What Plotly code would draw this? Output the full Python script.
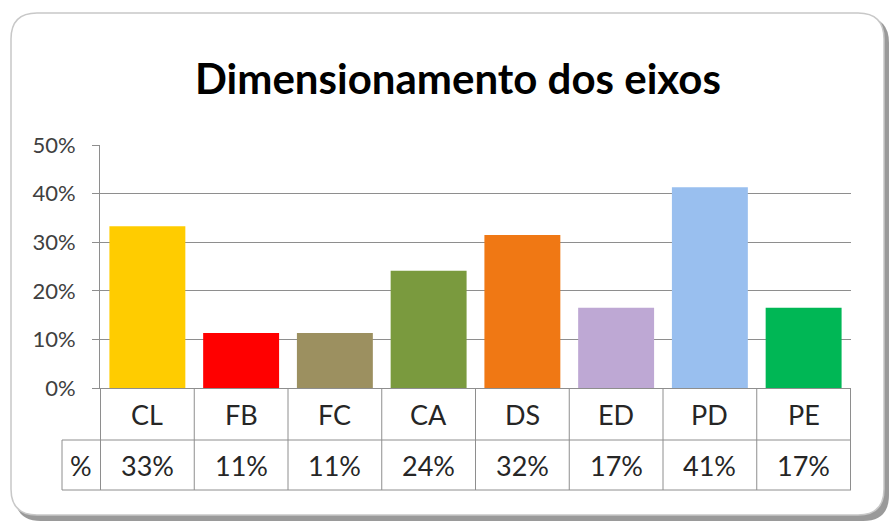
import plotly.graph_objects as go

categories = ["CL", "FB", "FC", "CA", "DS", "ED", "PD", "PE"]
values = [0.333, 0.113, 0.113, 0.241, 0.315, 0.165, 0.413, 0.165]
labels = ["33%", "11%", "11%", "24%", "32%", "17%", "41%", "17%"]
colors = ["#FFCC00", "#FF0000", "#9C9060", "#7A9A3E", "#F07814", "#BEA8D4", "#99BFEF", "#00B755"]
title = "Dimensionamento dos eixos"
row_label = "%"

W, H = 891, 530
L, R, T, B = 100, 851, 145, 388
FONT = "Lato"
TXT = "#262626"
GRID = "#8E8E8E"

def px(x):
    return (x - L) / (R - L)

def py(y):
    return (B - y) / (B - T)

fig = go.Figure(go.Bar(x=categories, y=values, marker=dict(color=colors, line=dict(width=0)),
                       hoverinfo="x+y"))

shapes = []

def rrect(x0, y0, x1, y1, r):
    p = (f"M {px(x0+r)},{py(y0)} L {px(x1-r)},{py(y0)} Q {px(x1)},{py(y0)} {px(x1)},{py(y0+r)} "
         f"L {px(x1)},{py(y1-r)} Q {px(x1)},{py(y1)} {px(x1-r)},{py(y1)} "
         f"L {px(x0+r)},{py(y1)} Q {px(x0)},{py(y1)} {px(x0)},{py(y1-r)} "
         f"L {px(x0)},{py(y0+r)} Q {px(x0)},{py(y0)} {px(x0+r)},{py(y0)} Z")
    return p

# frame shadow and frame
shapes.append(dict(type="path", xref="paper", yref="paper", path=rrect(15, 17, 889, 521, 26),
                   fillcolor="#9A9A9A", line=dict(width=0), layer="below"))
shapes.append(dict(type="path", xref="paper", yref="paper", path=rrect(11, 13, 884, 515, 26),
                   fillcolor="#FFFFFF", line=dict(color="#C8C8C8", width=1.5), layer="below"))

# data table lines
row1 = 440
row2 = 490
for i in range(len(categories) + 1):
    xv = i - 0.5
    shapes.append(dict(type="line", xref="x", yref="paper", x0=xv, x1=xv, y0=py(B), y1=py(row2),
                       line=dict(color=GRID, width=1)))
shapes.append(dict(type="line", xref="paper", yref="paper", x0=px(62), x1=1, y0=py(row1), y1=py(row1),
                   line=dict(color=GRID, width=1)))
shapes.append(dict(type="line", xref="paper", yref="paper", x0=px(62), x1=1, y0=py(row2), y1=py(row2),
                   line=dict(color=GRID, width=1)))
shapes.append(dict(type="line", xref="paper", yref="paper", x0=px(62), x1=px(62), y0=py(row1), y1=py(row2),
                   line=dict(color=GRID, width=1)))

annotations = []
for c, lab in zip(categories, labels):
    annotations.append(dict(x=c, xref="x", y=py((B + row1) / 2), yref="paper", text=c, showarrow=False,
                            font=dict(family=FONT, size=27, color=TXT), xanchor="center", yanchor="middle"))
    annotations.append(dict(x=c, xref="x", y=py((row1 + row2) / 2), yref="paper", text=lab, showarrow=False,
                            font=dict(family=FONT, size=27, color=TXT), xanchor="center", yanchor="middle"))
annotations.append(dict(x=px(81), xref="paper", y=py((row1 + row2) / 2), yref="paper", text=row_label,
                        showarrow=False, font=dict(family=FONT, size=27, color=TXT),
                        xanchor="center", yanchor="middle"))
annotations.append(dict(x=px(458), xref="paper", y=py(78), yref="paper", text="<b>" + title + "</b>",
                        showarrow=False, font=dict(family=FONT, size=42, color="#000000"),
                        xanchor="center", yanchor="middle"))

fig.update_layout(
    width=W, height=H,
    margin=dict(l=L, r=W - R, t=T, b=H - B, pad=0),
    paper_bgcolor="#FFFFFF", plot_bgcolor="rgba(0,0,0,0)",
    bargap=0.19, showlegend=False,
    shapes=shapes, annotations=annotations,
    xaxis=dict(showticklabels=False, ticks="", showgrid=False, showline=True, linecolor=GRID,
               linewidth=1, zeroline=False, fixedrange=True),
    yaxis=dict(range=[0, 0.5], tick0=0, dtick=0.1, tickformat=".0%", showgrid=True, gridcolor=GRID,
               gridwidth=1, showline=True, linecolor=GRID, linewidth=1, ticks="outside", ticklen=7,
               tickcolor=GRID, zeroline=False, ticklabelstandoff=12,
               tickfont=dict(family=FONT, size=22, color="#404040"), fixedrange=True),
)

fig.write_html("out.html")
